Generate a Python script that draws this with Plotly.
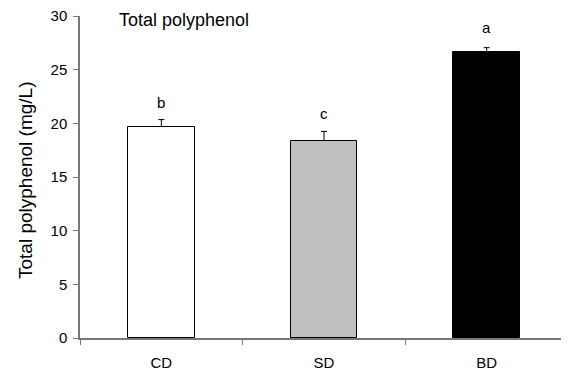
import plotly.graph_objects as go

categories = ["CD", "SD", "BD"]
means = [19.7, 18.4, 26.65]
errors = [0.65, 0.85, 0.4]
letters = ["b", "c", "a"]
letter_y = [21.9, 20.95, 28.95]
fill_colors = ["#ffffff", "#c0c0c0", "#000000"]

FONT = "Liberation Sans, Arial, sans-serif"

# page body has an 8px margin; size the figure so the plot lands where the reference has it
OFF = 8
W, H = 569 - OFF, 370 - OFF
ML, MR, MT, MB = 80 - OFF, 1, 16 - OFF, 32
PW = W - ML - MR
PH = H - MT - MB

fig = go.Figure()
fig.add_trace(go.Bar(
    x=categories, y=means, width=0.41,
    marker=dict(color=fill_colors, line=dict(color="#000000", width=1)),
    error_y=dict(type="data", symmetric=False, array=errors,
                 arrayminus=[0] * len(errors), color="#000000", thickness=1, width=3),
    showlegend=False,
))

for c, l, ly in zip(categories, letters, letter_y):
    fig.add_annotation(x=c, y=ly, text=l, showarrow=False, xref="x", yref="y",
                       yanchor="middle", font=dict(family=FONT, size=15, color="#000"))

fig.add_annotation(x=(117 - 80) / PW, y=(338 - 19.5) / PH, xref="paper", yref="paper",
                   text="Total polyphenol", showarrow=False, xanchor="left", yanchor="middle",
                   font=dict(family=FONT, size=18, color="#000"))
fig.add_annotation(x=0, y=(338 - 180) / PH, xref="paper", yref="paper", xshift=-55,
                   text="Total polyphenol (mg/L)", showarrow=False, textangle=-90,
                   xanchor="center", yanchor="middle",
                   font=dict(family=FONT, size=19, color="#000"))

fig.update_layout(
    width=W, height=H,
    margin=dict(l=ML, r=MR, t=MT, b=MB),
    plot_bgcolor="white", paper_bgcolor="white",
    font=dict(family=FONT, size=15, color="#000"),
    bargap=0,
)
fig.update_xaxes(
    range=[-0.5, 2.5], tickson="boundaries", ticks="outside", ticklen=5,
    tickcolor="#777", showline=True, linecolor="#777", linewidth=1.5,
    showgrid=False, zeroline=False, tickfont=dict(family=FONT, size=15),
    ticklabelstandoff=10, ticklabeloverflow="allow", automargin=False,
)
fig.update_yaxes(
    range=[0, 30], dtick=5, ticks="outside", ticklen=5, tickcolor="#777",
    showline=True, linecolor="#777", linewidth=1.5, showgrid=False, zeroline=False,
    tickfont=dict(family=FONT, size=15), ticklabeloverflow="allow",
    ticklabelstandoff=3, automargin=False,
)

fig.write_html("out.html")
